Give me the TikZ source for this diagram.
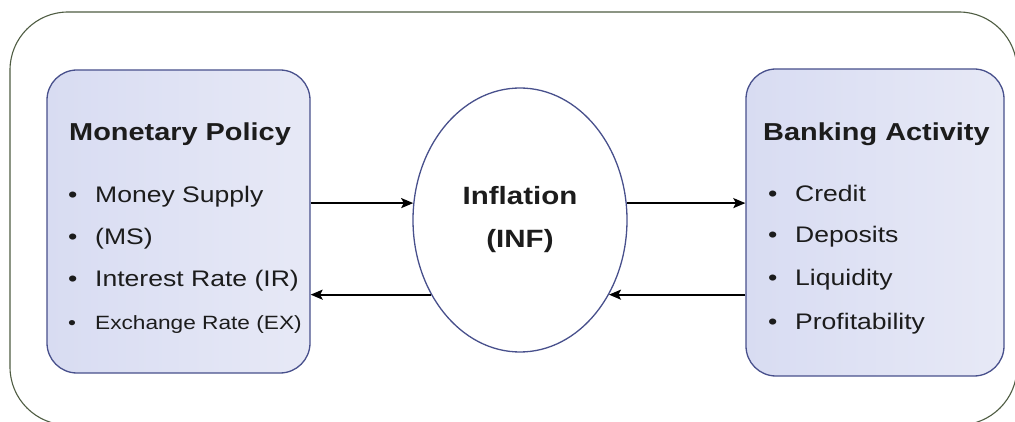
\documentclass[tikz,border=0pt]{standalone}
\usepackage{fontspec}
\setmainfont{Liberation Sans}[FakeStretch=1.18]
\usetikzlibrary{arrows.meta, positioning, shapes.geometric}
\definecolor{panelline}{RGB}{72,80,140}
\definecolor{panelleft}{RGB}{216,220,242}
\definecolor{panelright}{RGB}{231,233,246}
\definecolor{frameline}{RGB}{78,92,66}
\definecolor{ink}{RGB}{28,28,28}

\newcommand{\itm}[1]{\makebox[27pt][l]{\textbullet}#1}

\begin{document}
\begin{tikzpicture}[x=1pt, y=-1pt,
  panel/.style={draw=panelline, line width=1.3pt, rounded corners=30pt,
    left color=panelleft, right color=panelright, inner sep=0pt},
  heading/.style={anchor=base west, inner sep=0pt, text=ink,
    font=\fontsize{24.5}{29}\selectfont\bfseries},
  entry/.style={anchor=base west, inner sep=0pt, text=ink,
    font=\fontsize{22.5}{27}\selectfont},
  link/.style={line width=1.8pt, -{Stealth[length=12pt, width=10pt, inset=2.5pt]}}]
  \clip (0,0) rectangle (1015,422);
  % outer frame
  \draw[frameline, line width=1.1pt, rounded corners=58pt] (10,12) rectangle (1017,425);
  % left panel
  \node[panel, minimum width=263pt, minimum height=303pt] (mp) at (178.5,221.5) {};
  \node[heading] (mptitle) at (69,141) {Monetary Policy};
  \node[entry] (ms) at (68,203) {\itm{Money Supply}};
  \node[entry] (msabbr) at (68,244) {\itm{(MS)}};
  \node[entry] (ir) at (68,286.5) {\itm{Interest Rate (IR)}};
  \node[entry, font=\fontsize{19.2}{23}\selectfont] (ex) at (68,329) {\itm{Exchange Rate (EX)}};
  % right panel
  \node[panel, minimum width=258pt, minimum height=307pt] (ba) at (875,222.5) {};
  \node[heading] (batitle) at (763,141) {Banking Activity};
  \node[entry] (cr) at (768,201.5) {\itm{Credit}};
  \node[entry] (dp) at (768,242.5) {\itm{Deposits}};
  \node[entry] (lq) at (768,285) {\itm{Liquidity}};
  \node[entry] (pf) at (768,329) {\itm{Profitability}};
  % centre
  \node[ellipse, draw=panelline, line width=1.3pt, fill=white, inner sep=0pt,
    minimum width=214pt, minimum height=264pt, align=center, text=ink,
    font=\fontsize{25}{43}\selectfont\bfseries] (inf) at (520,220) {Inflation\\(INF)};
  % links
  \draw[link] (mp.east |- inf.171) -- (inf.171);
  \draw[link] (inf.9) -- (ba.west |- inf.9);
  \draw[link] (ba.west |- inf.-40.4) -- (inf.-40.4);
  \draw[link] (inf.220.4) -- (mp.east |- inf.220.4);
\end{tikzpicture}
\end{document}
